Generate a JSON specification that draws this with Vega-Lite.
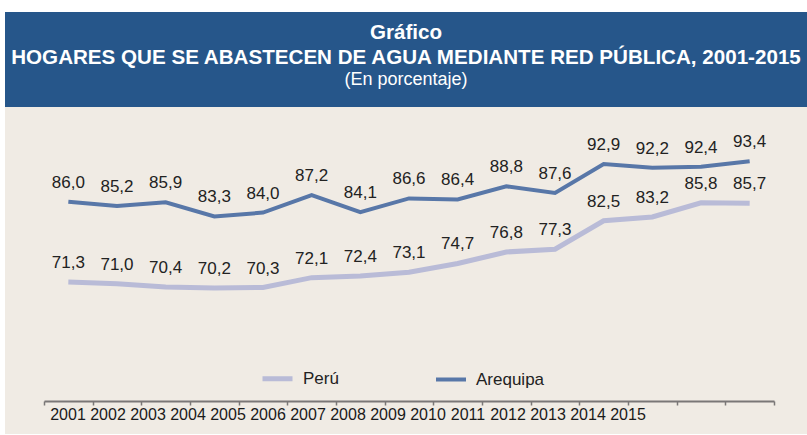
{
  "$schema": "https://vega.github.io/schema/vega-lite/v6.json",
  "width": 802,
  "height": 422,
  "autosize": "none",
  "padding": {"left": 5, "top": 12, "right": 0, "bottom": 1},
  "background": "white",
  "config": {
    "view": {"fill": "#f0ebe4", "stroke": null},
    "font": "Liberation Sans",
    "locale": {"number": {"decimal": ",", "thousands": ".", "grouping": [3], "currency": ["", ""]}}
  },
  "title": {
    "text": ["Gráfico", "HOGARES QUE SE ABASTECEN DE AGUA MEDIANTE RED  PÚBLICA, 2001-2015"],
    "subtitle": "(En porcentaje)",
    "color": "white",
    "subtitleColor": "white",
    "font": "Liberation Sans",
    "subtitleFont": "Liberation Sans",
    "fontSize": 20.6,
    "fontWeight": "bold",
    "subtitleFontSize": 18,
    "lineHeight": 25,
    "subtitlePadding": 2,
    "anchor": "middle",
    "orient": "top",
    "frame": "group",
    "offset": -77
  },
  "data": {
    "values": [
      {"year": 2001, "series": "Arequipa", "value": 86.0},
      {"year": 2002, "series": "Arequipa", "value": 85.2},
      {"year": 2003, "series": "Arequipa", "value": 85.9},
      {"year": 2004, "series": "Arequipa", "value": 83.3},
      {"year": 2005, "series": "Arequipa", "value": 84.0},
      {"year": 2006, "series": "Arequipa", "value": 87.2},
      {"year": 2007, "series": "Arequipa", "value": 84.1},
      {"year": 2008, "series": "Arequipa", "value": 86.6},
      {"year": 2009, "series": "Arequipa", "value": 86.4},
      {"year": 2010, "series": "Arequipa", "value": 88.8},
      {"year": 2011, "series": "Arequipa", "value": 87.6},
      {"year": 2012, "series": "Arequipa", "value": 92.9},
      {"year": 2013, "series": "Arequipa", "value": 92.2},
      {"year": 2014, "series": "Arequipa", "value": 92.4},
      {"year": 2015, "series": "Arequipa", "value": 93.4},
      {"year": 2001, "series": "Perú", "value": 71.3},
      {"year": 2002, "series": "Perú", "value": 71.0},
      {"year": 2003, "series": "Perú", "value": 70.4},
      {"year": 2004, "series": "Perú", "value": 70.2},
      {"year": 2005, "series": "Perú", "value": 70.3},
      {"year": 2006, "series": "Perú", "value": 72.1},
      {"year": 2007, "series": "Perú", "value": 72.4},
      {"year": 2008, "series": "Perú", "value": 73.1},
      {"year": 2009, "series": "Perú", "value": 74.7},
      {"year": 2010, "series": "Perú", "value": 76.8},
      {"year": 2011, "series": "Perú", "value": 77.3},
      {"year": 2012, "series": "Perú", "value": 82.5},
      {"year": 2013, "series": "Perú", "value": 83.2},
      {"year": 2014, "series": "Perú", "value": 85.8},
      {"year": 2015, "series": "Perú", "value": 85.7}
    ]
  },
  "layer": [
    {
      "data": {"values": [{"band": "title"}]},
      "mark": {"type": "rect", "color": "#26568a"},
      "encoding": {
        "y": {"datum": 103.3, "type": "quantitative", "scale": {"domain": [43.5, 120.7], "nice": false, "zero": false}, "axis": null},
        "y2": {"datum": 120.7}
      }
    },
    {
      "mark": {"type": "line", "strokeCap": "butt", "strokeJoin": "miter"},
      "encoding": {
        "x": {
          "field": "year", "type": "quantitative",
          "scale": {"domain": [2000.5, 2015.5], "range": [39, 769], "nice": false, "zero": false},
          "axis": {
            "values": [2000.5, 2001.5, 2002.5, 2003.5, 2004.5, 2005.5, 2006.5, 2007.5, 2008.5, 2009.5, 2010.5, 2011.5, 2012.5, 2013.5, 2014.5, 2015.5],
            "labels": false, "title": null, "grid": false, "offset": -33,
            "domainColor": "#7a7777", "domainWidth": 2, "tickColor": "#7a7777", "tickWidth": 1.5, "tickSize": 4
          }
        },
        "y": {"field": "value", "type": "quantitative", "scale": {"domain": [43.5, 120.7], "nice": false, "zero": false}, "axis": null},
        "color": {
          "field": "series", "type": "nominal",
          "scale": {"domain": ["Perú", "Arequipa"], "range": ["#b9bbd7", "#5877a8"]},
          "legend": {
            "orient": "none", "legendX": 255, "legendY": 349, "direction": "horizontal", "title": null,
            "symbolType": "stroke", "symbolSize": 900, "symbolStrokeWidth": 5,
            "labelFontSize": 17, "labelFont": "Liberation Sans", "labelColor": "#222222",
            "columnPadding": 89, "labelOffset": 8
          }
        },
        "strokeWidth": {
          "field": "series", "type": "nominal",
          "scale": {"domain": ["Perú", "Arequipa"], "range": [5, 4]},
          "legend": null
        }
      }
    },
    {
      "mark": {"type": "text", "baseline": "alphabetic", "dy": -14, "fontSize": 17, "color": "#222222", "font": "Liberation Sans"},
      "encoding": {
        "x": {"field": "year", "type": "quantitative", "scale": {"domain": [2000.5, 2015.5], "range": [39, 769], "nice": false, "zero": false}, "axis": null},
        "y": {"field": "value", "type": "quantitative"},
        "text": {"field": "value", "type": "quantitative", "format": ".1f"}
      }
    },
    {
      "transform": [{"filter": "datum.series === 'Perú'"}],
      "mark": {"type": "text", "baseline": "middle", "fontSize": 16, "color": "#1a1a1a", "font": "Liberation Sans"},
      "encoding": {
        "x": {"field": "year", "type": "quantitative", "scale": {"domain": [2001, 2015], "range": [63, 623], "nice": false, "zero": false}, "axis": null},
        "y": {"datum": 46.9, "type": "quantitative"},
        "text": {"field": "year", "type": "quantitative", "format": "d"}
      }
    }
  ],
  "resolve": {"scale": {"x": "independent"}}
}
